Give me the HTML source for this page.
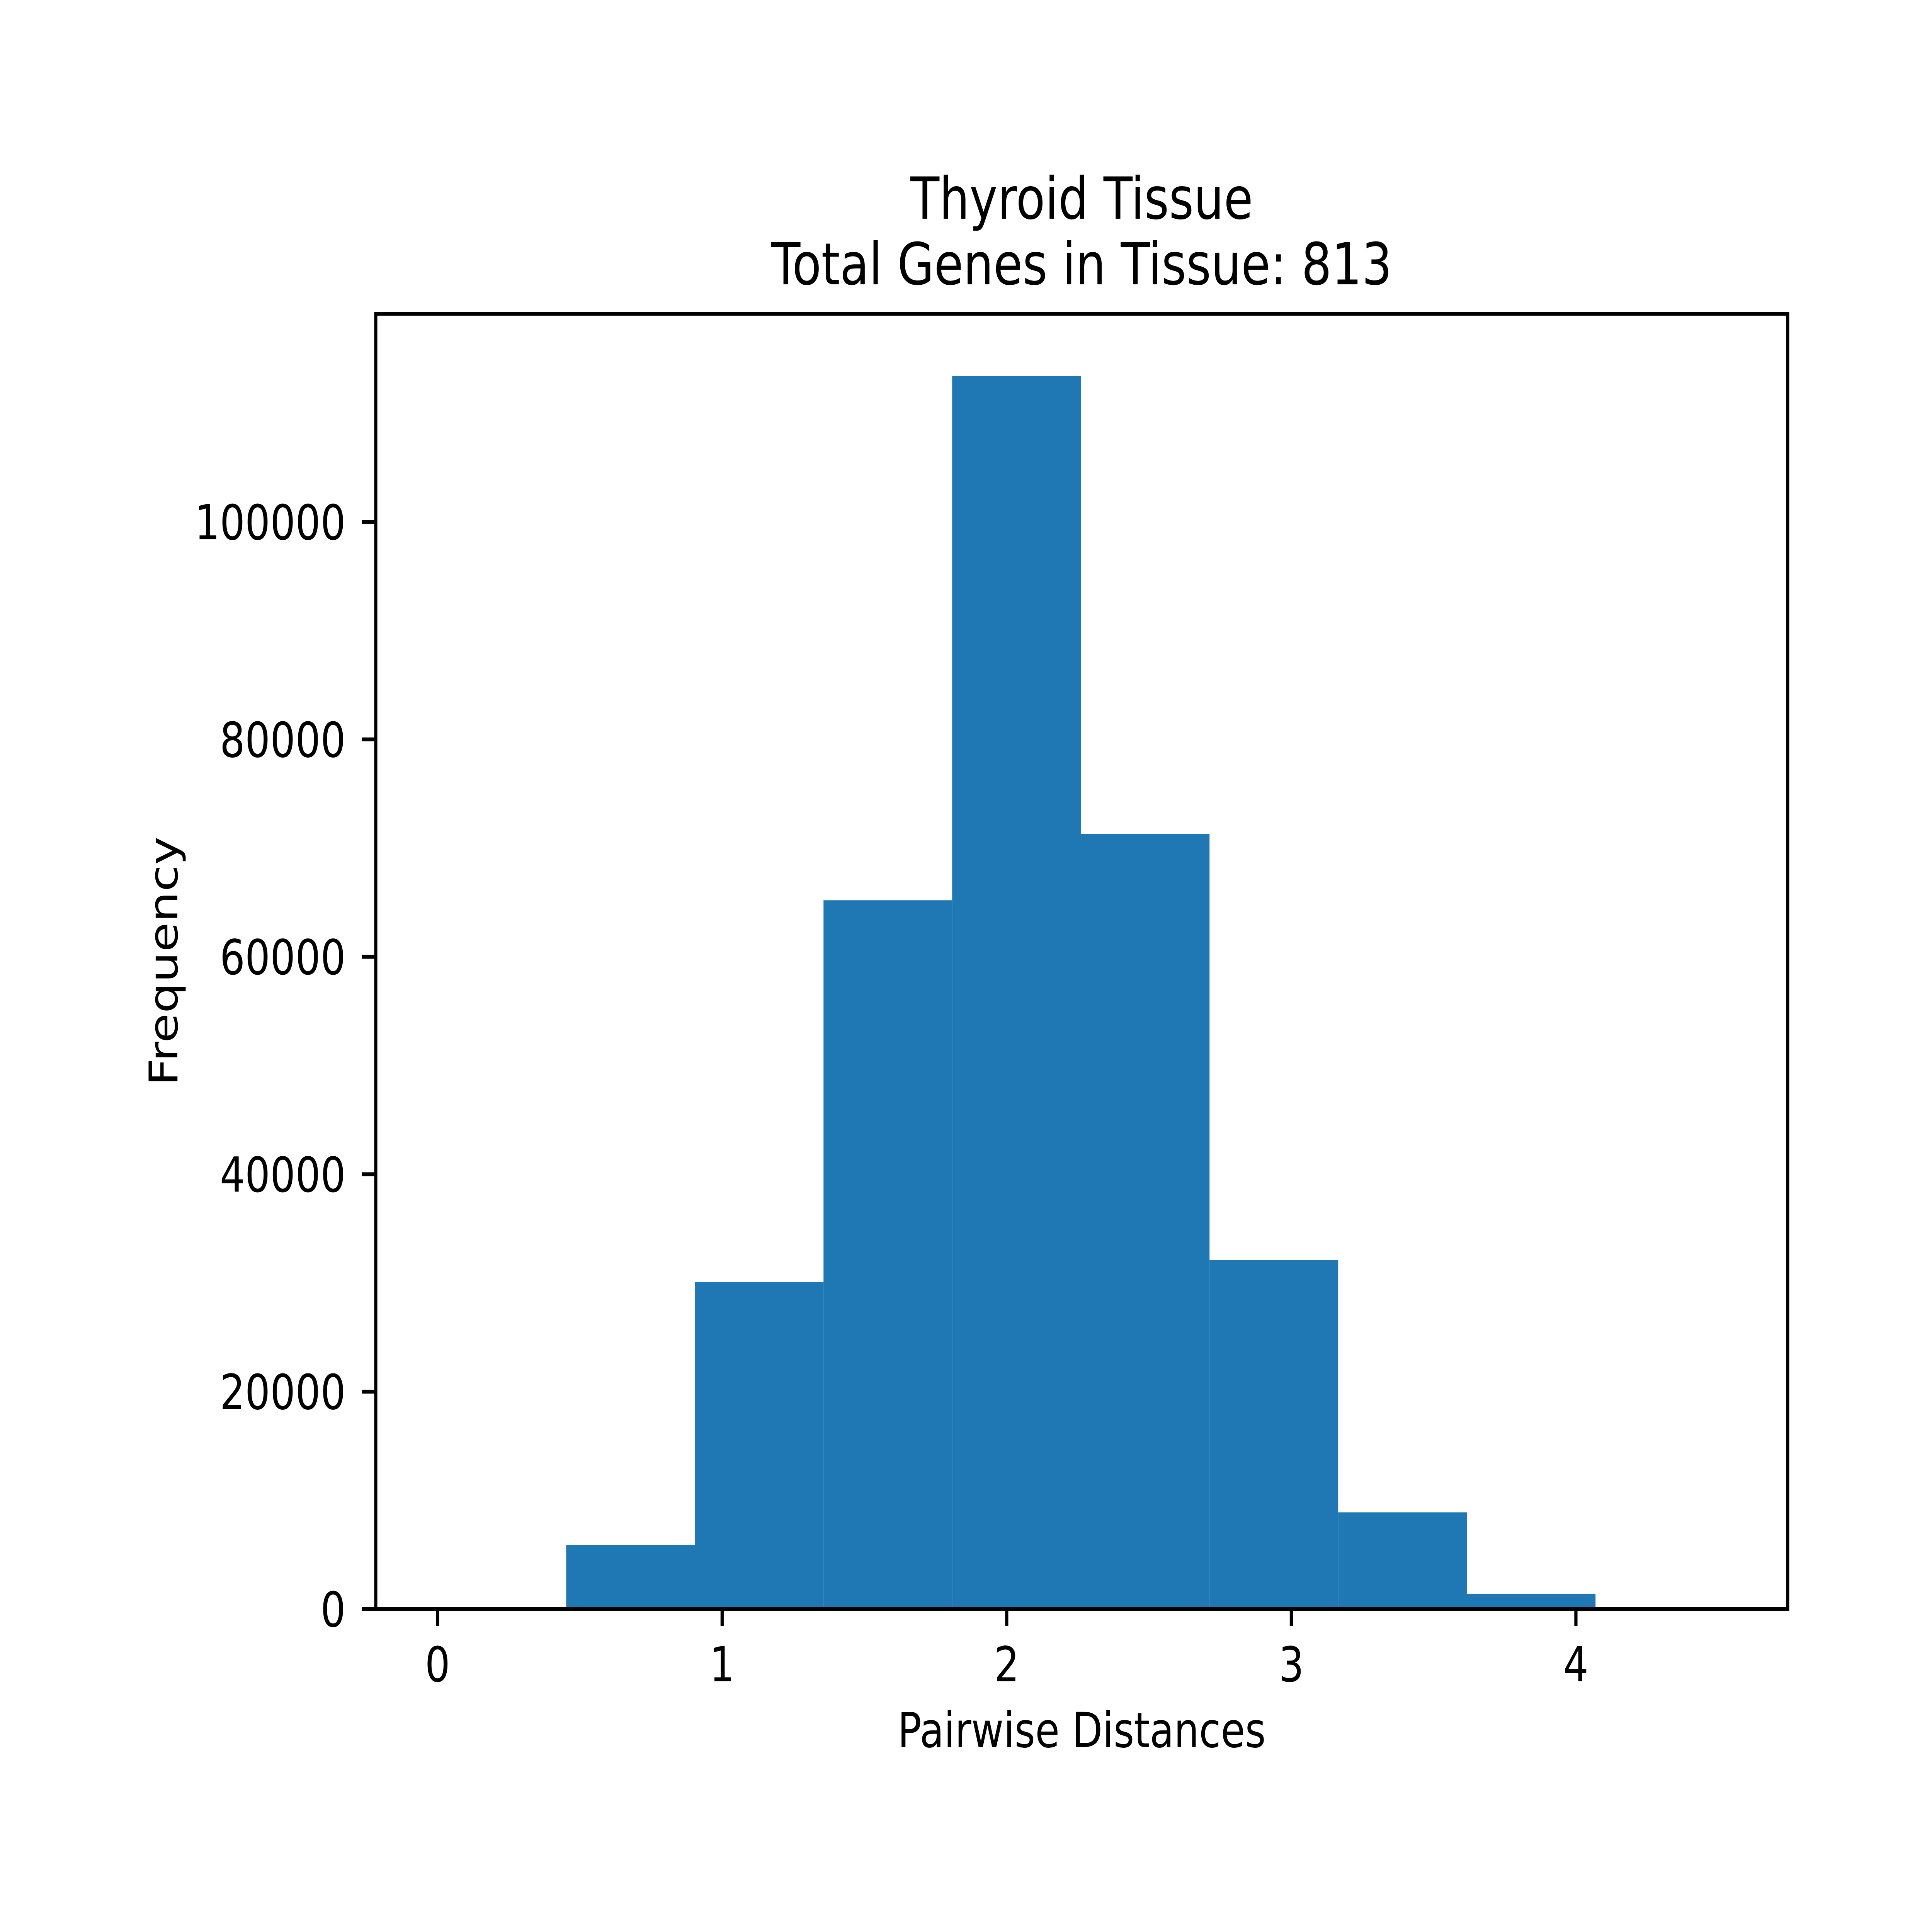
<!DOCTYPE html>
<html><head><meta charset="utf-8">
<style>
html,body{margin:0;padding:0;background:#fff;width:100%;height:100%;overflow:hidden;}
svg{display:block;position:absolute;left:0;top:0;width:100%;height:100%;}
text{font-family:"DejaVu Sans","Liberation Sans",sans-serif;fill:#000;}
</style></head>
<body>
<svg id="chart" viewBox="0 0 6103 4962" preserveAspectRatio="none" xmlns="http://www.w3.org/2000/svg">
<rect x="0" y="0" width="6103" height="4962" fill="#fff"/>
<g id="bars"></g>
<g id="axes"></g>
<text x="3417" y="566" font-size="150" text-anchor="middle">Thyroid Tissue</text>
<text x="3417" y="736" font-size="150" text-anchor="middle">Total Genes in Tissue: 813</text>
<text x="3417" y="4522" font-size="125" text-anchor="middle">Pairwise Distances</text>
<text x="560" y="2488" font-size="125" text-anchor="middle" transform="rotate(-90 560 2488)">Frequency</text>
</svg>
<script>
const binEdges = [0, 0.4521, 0.9042, 1.3563, 1.8084, 2.2605, 2.7126, 3.1647, 3.6168, 4.0689, 4.521];
const counts = [0, 5900, 30100, 65200, 113400, 71300, 32100, 8900, 1400, 0];
const xTicks = [0, 1, 2, 3, 4];
const yTicks = [0, 20000, 40000, 60000, 80000, 100000];
const yTickLabels = ["0", "20000", "40000", "60000", "80000", "100000"];

const L = 1187, R = 5647, T = 812, B = 4165;
const xMin = -0.217, xMax = 4.744, yMin = 0, yMax = 119155;
function xs(v){ return L + (v - xMin) / (xMax - xMin) * (R - L); }
function ys(v){ return B - (v - yMin) / (yMax - yMin) * (B - T); }
const NS = "http://www.w3.org/2000/svg";
const barsG = document.getElementById('bars');
const axesG = document.getElementById('axes');
function mk(tag, attrs){ const e = document.createElementNS(NS, tag); for (const k in attrs) e.setAttribute(k, attrs[k]); return e; }

counts.forEach((c, i) => {
  if (c <= 0) return;
  const x0 = xs(binEdges[i]), x1 = xs(binEdges[i+1]);
  const r = mk('rect', {x: x0, y: ys(c), width: x1 - x0, height: ys(0) - ys(c), fill: '#1f77b4'});
  
  
  barsG.appendChild(r);
});

const frame = mk('rect', {x: L, y: T, width: R - L, height: B - T, fill: 'none', stroke: '#000', 'stroke-width': 10});


axesG.appendChild(frame);

xTicks.forEach(v => {
  const x = xs(v);
  const t = mk('line', {x1: x, x2: x, y1: B, y2: B + 44, stroke: '#000', 'stroke-width': 10});
  
  
  axesG.appendChild(t);
  const lb = mk('text', {x: x, y: 4352, 'font-size': 125, 'text-anchor': 'middle'});
  lb.textContent = String(v);
  
  
  axesG.appendChild(lb);
});

yTicks.forEach((v, i) => {
  const y = ys(v);
  const t = mk('line', {x1: L - 44, x2: L, y1: y, y2: y, stroke: '#000', 'stroke-width': 10});
  
  
  axesG.appendChild(t);
  const lb = mk('text', {x: 1092, y: y + 45, 'font-size': 125, 'text-anchor': 'end'});
  lb.textContent = yTickLabels[i];
  
  
  axesG.appendChild(lb);
});
</script>
</body></html>
